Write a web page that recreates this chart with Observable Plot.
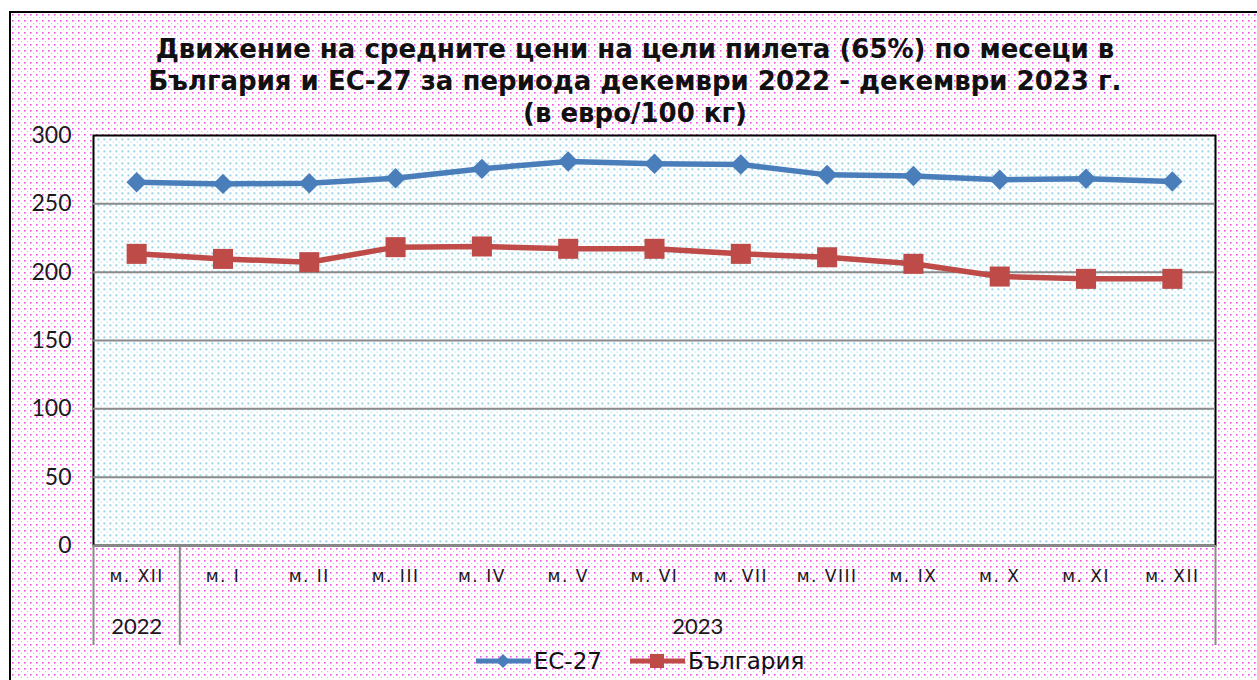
<!DOCTYPE html>
<html>
<head>
<meta charset="utf-8">
<script src="https://cdn.jsdelivr.net/npm/d3@7"></script>
<script src="https://cdn.jsdelivr.net/npm/@observablehq/plot@0.6"></script>
<style>
  html, body { margin: 0; padding: 0; width: 1257px; height: 680px; overflow: hidden; background: #fff; }
  #frame {
    position: absolute; left: 9px; top: 11px; width: 1270px; height: 720px;
    border: 2px solid #000; box-sizing: border-box;
    background-color: #fff;
    background-image: url("data:image/svg+xml;utf8,<svg xmlns='http://www.w3.org/2000/svg' width='6' height='6'><rect x='1' y='1' width='1.6' height='1.6' fill='%23f24ee2'/><rect x='4' y='4' width='1.2' height='1.2' fill='%23f9aef2'/></svg>");
    background-size: 6px 6px;
  }
  #title {
    position: absolute; left: 0; top: 33px; width: 1270px; text-align: center;
    font: bold 26px "DejaVu Sans", Verdana, sans-serif; line-height: 32px; color: #111;
  }
  #chart { position: absolute; left: 0; top: 125px; }
  #legend {
    position: absolute; left: 0; top: 645px; width: 1280px; height: 32px;
    display: flex; justify-content: center; align-items: center; gap: 0;
    font: 23px "DejaVu Sans", Verdana, sans-serif; color: #111;
  }
  #legend .item { display: flex; align-items: center; margin: 0 14px; }
  #legend svg { display: block; margin-right: 3px; }
  .monthlab text { letter-spacing: 1.5px; }
</style>
</head>
<body>
<div id="frame"></div>
<div id="title"></div>
<div id="chart"></div>
<div id="legend"></div>
<script>
// ---- data ----
const titleLines = [
  "Движение на средните цени на цели пилета (65%) по месеци в",
  "България и ЕС-27 за периода декември 2022 - декември 2023 г.",
  "(в евро/100 кг)"
];
const months = ["м. XII", "м. I", "м. II", "м. III", "м. IV", "м. V", "м. VI",
                "м. VII", "м. VIII", "м. IX", "м. X", "м. XI", "м. XII"];
const years = ["2022", "2023", "2023", "2023", "2023", "2023", "2023",
               "2023", "2023", "2023", "2023", "2023", "2023"];
const eu27 = [265.8, 264.6, 265.1, 268.7, 275.6, 281.0, 279.3, 278.8, 271.2, 270.4, 267.6, 268.3, 266.3];
const bulgaria = [213.4, 209.7, 207.3, 218.3, 218.8, 217.1, 217.1, 213.4, 210.9, 206.1, 196.8, 195.1, 195.1];
const yTicks = [0, 50, 100, 150, 200, 250, 300];
const seriesNames = ["ЕС-27", "България"];
const colors = ["#4a7ebb", "#be4b48"];

// ---- derived ----
const data = months.map((m, i) => ({i, month: m, eu: eu27[i], bg: bulgaria[i]}));
const groups = [];
years.forEach((y, i) => {
  const g = groups[groups.length - 1];
  if (g && g.year === y) g.last = i; else groups.push({year: y, first: i, last: i});
});
groups.forEach(g => g.center = (g.first + g.last) / 2);
const boundaries = groups.map(g => g.first - 0.5).concat([months.length - 0.5]);

document.getElementById("title").innerHTML = titleLines.join("<br>");

const chart = Plot.plot({
  width: 1257,
  height: 520,
  marginLeft: 93,
  marginRight: 42,
  marginTop: 10,
  marginBottom: 100,
  x: {domain: [-0.5, months.length - 0.5], axis: null},
  y: {domain: [0, 300], axis: null},
  style: {background: "transparent", overflow: "visible", fontFamily: "Lato, sans-serif", color: "#1a1a1a"},
  marks: [
    Plot.frame({fill: "url(#blueDots)"}),
    Plot.frame({stroke: "#000", strokeWidth: 2}),
    Plot.ruleY(yTicks.filter(v => v < 300), {stroke: "#8a8a8a", strokeWidth: 2}),
    // y tick labels
    Plot.text(yTicks, {y: d => d, text: d => String(d), frameAnchor: "left", textAnchor: "end", dx: -22, fontSize: 23, fill: "#1a1a1a"}),
    // category separators below the plot
    Plot.axisX({ticks: boundaries, tickSize: 100, stroke: "#8a8a8a", strokeWidth: 2, tickFormat: () => "", label: null}),
    // month labels
    Plot.text(data, {x: "i", text: "month", frameAnchor: "bottom", lineAnchor: "top", dy: 24, fontSize: 17, fontFamily: "DejaVu Sans, sans-serif", fill: "#1a1a1a", className: "monthlab"}),
    // year labels
    Plot.text(groups, {x: "center", text: "year", frameAnchor: "bottom", lineAnchor: "top", dy: 73, fontSize: 22, fill: "#1a1a1a"}),
    Plot.line(data, {x: "i", y: "eu", stroke: colors[0], strokeWidth: 5.5}),
    Plot.dot(data, {x: "i", y: "eu", symbol: "diamond2", r: 9.2, fill: colors[0]}),
    Plot.line(data, {x: "i", y: "bg", stroke: colors[1], strokeWidth: 5.5}),
    Plot.dot(data, {x: "i", y: "bg", symbol: "square", r: 11.3, fill: colors[1]})
  ]
});
chart.insertAdjacentHTML("afterbegin", `
  <defs>
    <pattern id="blueDots" patternUnits="userSpaceOnUse" width="6" height="6">
      <rect width="6" height="6" fill="#ffffff"></rect>
      <rect x="1" y="1" width="1.6" height="1.6" fill="#5fbad6"></rect>
      <rect x="4" y="4" width="1.2" height="1.2" fill="#aedbea"></rect>
    </pattern>
  </defs>`);
document.getElementById("chart").appendChild(chart);

// legend
const legend = document.getElementById("legend");
seriesNames.forEach((name, k) => {
  const item = document.createElement("div");
  item.className = "item";
  const marker = k === 0
    ? `<path d="M27,4 L34,11 L27,18 L20,11 Z" fill="${colors[k]}"/>`
    : `<rect x="20" y="4" width="14" height="14" fill="${colors[k]}"/>`;
  item.innerHTML = `<svg width="55" height="22"><line x1="0" x2="55" y1="11" y2="11" stroke="${colors[k]}" stroke-width="5"/>${marker}</svg><span>${name}</span>`;
  legend.appendChild(item);
});
</script>
</body>
</html>
